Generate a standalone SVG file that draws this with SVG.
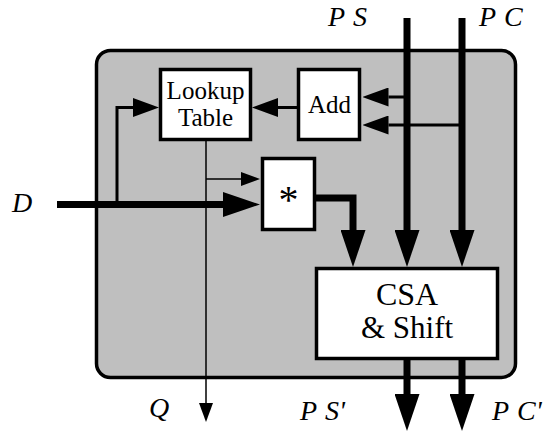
<svg xmlns="http://www.w3.org/2000/svg" width="548" height="431" viewBox="0 0 548 431">
  <style>
    .box { fill: #ffffff; stroke: #000000; stroke-width: 3.5; }
    .frame { fill: #bfbfbf; stroke: #000000; stroke-width: 3.5; }
    .thick { fill: none; stroke: #000000; stroke-width: 7; stroke-linejoin: miter; }
    .mid { fill: none; stroke: #000000; stroke-width: 3; }
    .thin { fill: none; stroke: #000000; stroke-width: 1.5; }
    .lbl { font-family: "Liberation Serif", "Times New Roman", serif; font-size: 28px; font-style: italic; fill: #000000; }
    .txt { font-family: "Liberation Serif", "Times New Roman", serif; fill: #000000; text-anchor: middle; }
  </style>
  <defs>
    <marker id="headBig" markerUnits="userSpaceOnUse" viewBox="0 0 37 25" markerWidth="37" markerHeight="25" refX="0" refY="12.5" orient="auto">
      <path d="M0,0 L37,12.5 L0,25 Z" fill="#000000"/>
    </marker>
    <marker id="headMid" markerUnits="userSpaceOnUse" viewBox="0 0 26 19" markerWidth="26" markerHeight="19" refX="0" refY="9.5" orient="auto">
      <path d="M0,0 L26,9.5 L0,19 Z" fill="#000000"/>
    </marker>
    <marker id="headSmall" markerUnits="userSpaceOnUse" viewBox="0 0 19 14" markerWidth="19" markerHeight="14" refX="0" refY="7" orient="auto">
      <path d="M0,0 L19,7 L0,14 Z" fill="#000000"/>
    </marker>
  </defs>

  <!-- divider unit frame -->
  <rect id="frame" class="frame" x="96.5" y="50.5" width="419" height="327" rx="14" ry="14"/>

  <!-- connectors -->
  <g id="connectors">
    <path class="thick" d="M57,204.5 H223" marker-end="url(#headBig)"/>
    <path class="mid" d="M117,204.5 V107.5 H133" marker-end="url(#headMid)"/>
    <path class="mid" d="M297,107.5 H278" marker-end="url(#headMid)"/>
    <path class="mid" d="M408.5,97 H388.5" marker-end="url(#headMid)"/>
    <path class="mid" d="M463.5,125 H388.5" marker-end="url(#headMid)"/>
    <path class="thin" d="M206,141 V403" marker-end="url(#headSmall)"/>
    <path class="thin" d="M206,179 H241" marker-end="url(#headSmall)"/>
    <path class="thick" d="M316,198 H353 V230" marker-end="url(#headBig)"/>
    <path class="thick" d="M407,18 V230" marker-end="url(#headBig)"/>
    <path class="thick" d="M462,18 V230" marker-end="url(#headBig)"/>
    <path class="thick" d="M407,360 V394" marker-end="url(#headBig)"/>
    <path class="thick" d="M462,360 V394" marker-end="url(#headBig)"/>
  </g>

  <!-- blocks -->
  <g id="lookup">
    <rect class="box" x="160.5" y="69.5" width="90" height="70"/>
    <text class="txt" x="205.5" y="99" font-size="25">Lookup</text>
    <text class="txt" x="205.5" y="126" font-size="25">Table</text>
  </g>
  <g id="add">
    <rect class="box" x="298.5" y="69.5" width="61" height="70"/>
    <text class="txt" x="329.5" y="113" font-size="25">Add</text>
  </g>
  <g id="mult">
    <rect class="box" x="262.5" y="158.5" width="52" height="71"/>
    <text class="txt" x="288.5" y="213" font-size="40">*</text>
  </g>
  <g id="csa">
    <rect class="box" x="316.5" y="268.5" width="181" height="90"/>
    <text class="txt" x="407" y="305" font-size="32">CSA</text>
    <text class="txt" x="407" y="338" font-size="31">&amp; Shift</text>
  </g>

  <!-- signal names -->
  <g id="labels">
    <text class="lbl" x="328" y="26">P<tspan dx="8">S</tspan></text>
    <text class="lbl" x="479" y="26">P<tspan dx="8">C</tspan></text>
    <text class="lbl" x="12" y="212">D</text>
    <text class="lbl" x="149" y="417">Q</text>
    <text class="lbl" x="300" y="420">P<tspan dx="8">S</tspan>'</text>
    <text class="lbl" x="492" y="420">P<tspan dx="8">C</tspan>'</text>
  </g>
</svg>
